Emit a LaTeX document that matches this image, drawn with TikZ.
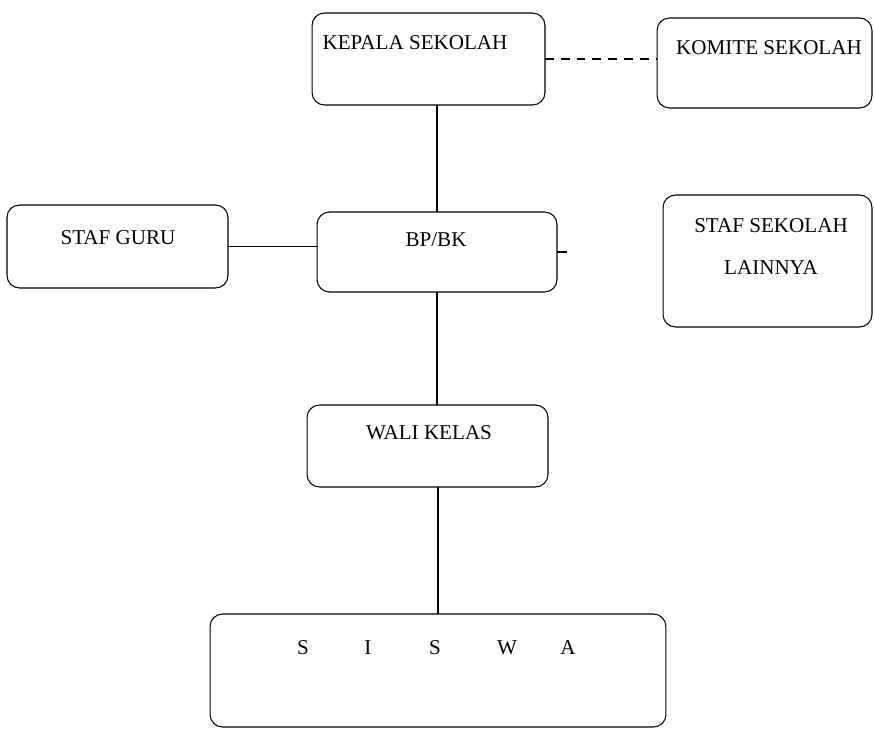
\documentclass[tikz,border=0pt]{standalone}
\usepackage{fontspec}
\setmainfont{Liberation Serif}

\begin{document}
\begin{tikzpicture}[x=0.02cm, y=-0.02cm,
    %Option for boxes and lines
    inner sep=0pt, outer sep=0pt,%
    box/.style={draw, line width=0.6pt, rounded corners=0.25cm},
    txt/.style={font=\fontsize{12}{14}\selectfont},
    link/.style={line width=0.6pt},
    dashlink/.style={line width=0.6pt, dash pattern=on 5pt off 4pt},
]
    % Frame
    \useasboundingbox (0,0) rectangle (874,729);

    % Boxes
    \node[box, minimum width=4.66cm, minimum height=1.84cm] (kepala)   at (428.5,59)    {};
    \node[box, minimum width=4.30cm, minimum height=1.80cm] (komite)   at (764.5,63)    {};
    \node[box, minimum width=4.42cm, minimum height=1.66cm] (stafguru) at (117.5,246.5) {};
    \node[box, minimum width=4.80cm, minimum height=1.60cm] (bpbk)     at (437,252)     {};
    \node[box, minimum width=4.18cm, minimum height=2.64cm] (staflain) at (767.5,261)   {};
    \node[box, minimum width=4.82cm, minimum height=1.64cm] (wali)     at (427.5,446)   {};
    \node[box, minimum width=9.12cm, minimum height=2.26cm] (siswa)    at (438,670.5)   {};

    % Texts
    \node[txt] (kepalatxt)   at (415,43)    {KEPALA SEKOLAH};
    \node[txt] (komitetxt)   at (769,48)    {KOMITE SEKOLAH};
    \node[txt] (stafgurutxt) at (118,238)   {STAF GURU};
    \node[txt] (bpbktxt)     at (436,240)   {BP/BK};
    \node[txt, align=center, font=\fontsize{12}{24.4}\selectfont] (staflaintxt) at (771,246.5) {STAF SEKOLAH\\LAINNYA};
    \node[txt] (walitxt)     at (429,433)   {WALI KELAS};
    \foreach \xx/\ch [count=\i] in {303/S, 368/I, 435/S, 507/W, 568/A}
        \node[txt] (siswa\i) at (\xx,648) {\ch};

    % Lines
    \coordinate (stub) at ([xshift=0.2cm]bpbk.east);
    \draw[dashlink] (kepala.east) -- (kepala.east -| komite.west);
    \draw[link] (kepala.south -| bpbk.north) -- (bpbk.north);
    \draw[link] (stafguru.east) -- (stafguru.east -| bpbk.west);
    \draw[link] (bpbk.east) -- (stub);
    \draw[link] (bpbk.south) -- (bpbk.south |- wali.north);
    \draw[link] (siswa.north |- wali.south) -- (siswa.north);
\end{tikzpicture}
\end{document}
